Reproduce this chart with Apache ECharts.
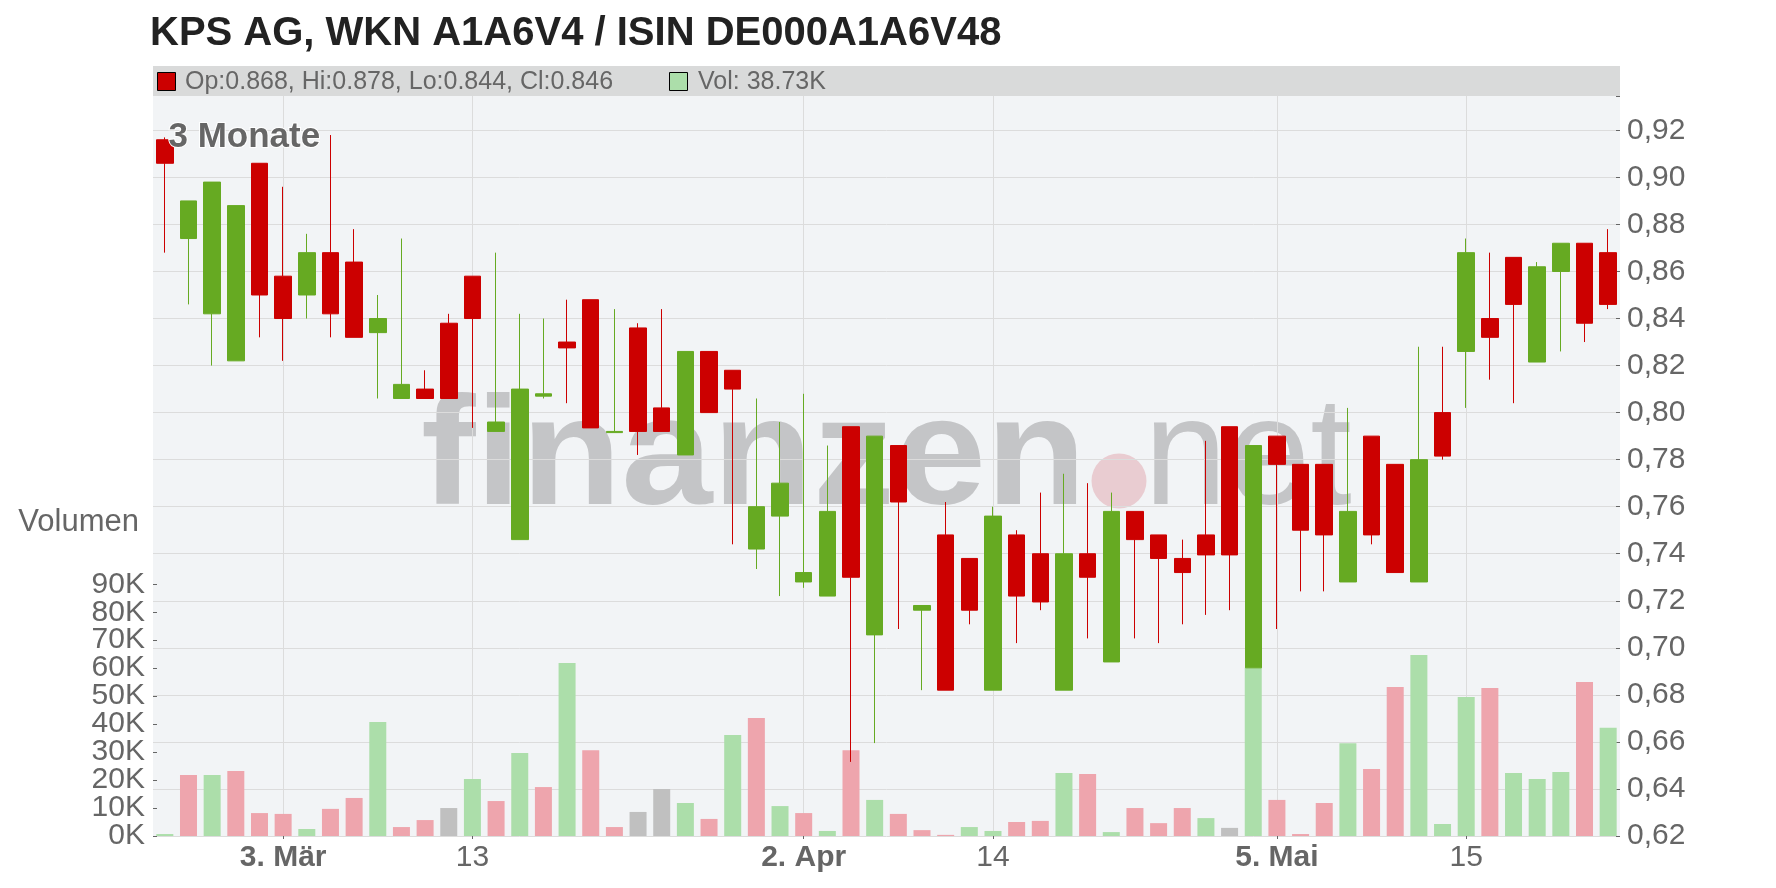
<!DOCTYPE html>
<html><head><meta charset="utf-8">
<script src="https://cdn.jsdelivr.net/npm/echarts@6/dist/echarts.min.js"></script>
<style>html,body{margin:0;padding:0;background:#fff}#c{width:1776px;height:888px}</style>
</head><body><div id="c"></div>
<script>
const dates = [
 '2025-02-24','2025-02-25','2025-02-26','2025-02-27','2025-02-28',
 '2025-03-03','2025-03-04','2025-03-05','2025-03-06','2025-03-07',
 '2025-03-10','2025-03-11','2025-03-12','2025-03-13','2025-03-14',
 '2025-03-17','2025-03-18','2025-03-19','2025-03-20','2025-03-21',
 '2025-03-24','2025-03-25','2025-03-26','2025-03-27','2025-03-28',
 '2025-03-31','2025-04-01','2025-04-02','2025-04-03','2025-04-04',
 '2025-04-07','2025-04-08','2025-04-09','2025-04-10','2025-04-11',
 '2025-04-14','2025-04-15','2025-04-16','2025-04-17','2025-04-22',
 '2025-04-23','2025-04-24','2025-04-25','2025-04-28','2025-04-29',
 '2025-04-30','2025-05-02','2025-05-05','2025-05-06','2025-05-07',
 '2025-05-08','2025-05-09','2025-05-12','2025-05-13','2025-05-14',
 '2025-05-15','2025-05-16','2025-05-19','2025-05-20','2025-05-21',
 '2025-05-22','2025-05-23'];
const open = [0.916,0.874,0.842,0.822,0.906,0.858,0.850,0.868,0.864,0.834,
 0.806,0.810,0.838,0.858,0.792,0.746,0.807,0.830,0.848,0.7915,
 0.836,0.802,0.782,0.826,0.818,0.742,0.756,0.728,0.722,0.794,
 0.7055,0.786,0.716,0.748,0.738,0.682,0.748,0.740,0.682,0.740,
 0.694,0.758,0.748,0.738,0.748,0.794,0.6915,0.790,0.778,0.778,
 0.728,0.790,0.778,0.728,0.800,0.826,0.840,0.866,0.8215,0.860,
 0.872,0.868];
const high = [0.917,0.890,0.898,0.888,0.906,0.896,0.876,0.918,0.878,0.850,
 0.874,0.818,0.842,0.858,0.868,0.842,0.840,0.848,0.848,0.844,
 0.838,0.844,0.826,0.826,0.818,0.806,0.796,0.808,0.786,0.794,
 0.790,0.786,0.718,0.762,0.738,0.760,0.750,0.766,0.774,0.770,
 0.766,0.758,0.748,0.746,0.788,0.794,0.786,0.790,0.778,0.778,
 0.802,0.790,0.778,0.828,0.828,0.874,0.868,0.866,0.864,0.872,
 0.872,0.878];
const low = [0.868,0.846,0.820,0.822,0.832,0.822,0.840,0.832,0.832,0.806,
 0.806,0.806,0.806,0.7935,0.792,0.746,0.806,0.804,0.7935,0.7915,
 0.782,0.792,0.782,0.800,0.744,0.7335,0.722,0.7255,0.722,0.6515,
 0.6595,0.708,0.682,0.682,0.710,0.682,0.702,0.716,0.682,0.704,
 0.694,0.704,0.702,0.710,0.714,0.716,0.6915,0.708,0.724,0.724,
 0.728,0.744,0.732,0.728,0.780,0.802,0.814,0.804,0.8215,0.826,
 0.830,0.844];
const close = [0.906,0.890,0.898,0.888,0.850,0.840,0.868,0.842,0.832,0.840,
 0.812,0.806,0.806,0.840,0.796,0.810,0.808,0.8275,0.7935,0.792,
 0.792,0.792,0.826,0.800,0.810,0.760,0.770,0.732,0.758,0.730,
 0.790,0.762,0.718,0.682,0.716,0.756,0.722,0.7195,0.740,0.730,
 0.758,0.746,0.738,0.732,0.7395,0.7395,0.786,0.778,0.750,0.748,
 0.758,0.748,0.732,0.780,0.7815,0.868,0.832,0.846,0.862,0.872,
 0.838,0.846];
const volume = [700,21800,21800,23200,8200,7900,2500,9700,13600,40800,
 3200,5700,10000,20400,12500,29700,17500,61900,30700,3200,
 8600,16800,11800,6100,36100,42200,10700,8200,1800,30700,
 12900,7900,2100,400,3200,1800,5000,5400,22500,22200,
 1400,10000,4600,10000,6400,2900,60200,12900,700,11800,
 33200,24000,53300,64700,4300,49700,52900,22500,20400,22900,
 55100,38730];
const tickIndex = [5,13,27,35,47,55];
const tickLabels = ['3. Mär','13','2. Apr','14','5. Mai','15'];
const titleText = 'KPS AG, WKN A1A6V4 / ISIN DE000A1A6V48';
const periodText = '3 Monate';
const volumeName = 'Volumen';

const UP='#66aa22', DOWN='#cc0000', VUP='#acdeaa', VDOWN='#eea5ad', VFLAT='#c0c0c0';
const FONT = "'Liberation Sans', Arial, sans-serif";
const GL=153, GR=156, GT=96, GB=52;
const VTOP=584.3;                       // top of the 0..90K volume band
const VSTEP=(888-GB-VTOP)/9;            // pixels per 10K

const candleData = dates.map((d,i)=>[open[i],close[i],low[i],high[i]]);
function volColor(i){
  if(i===0) return VUP;
  if(close[i]>close[i-1]) return VUP;
  if(close[i]<close[i-1]) return VDOWN;
  return VFLAT;
}
const volData = volume.map((v,i)=>({value:v,itemStyle:{color:volColor(i)}}));
const n = dates.length-1;
const legendText = 'Op:'+open[n].toFixed(3)+', Hi:'+high[n].toFixed(3)+', Lo:'+low[n].toFixed(3)+', Cl:'+close[n].toFixed(3);
const volText = 'Vol: '+(volume[n]/1000).toFixed(2)+'K';
const isTick = (i)=>tickIndex.indexOf(i)>=0;
function txt(x,y,text,font,fill,align,extra){
  return Object.assign({type:'text',z:11,silent:true,x:x,y:y,
    style:Object.assign({text:text,font:font,fill:fill,align:align,verticalAlign:'middle',textAlign:align,textVerticalAlign:'middle'},extra||{})});
}
const volLabel = {margin:8,color:'#666',fontSize:30,lineHeight:22,fontFamily:FONT,
  formatter:v=>(v<0?'':(v/1000)+'K')};
const volTick = {show:true,inside:true,length:4,lineStyle:{color:'#666'}};

const chart = echarts.init(document.getElementById('c'), null, {renderer:'canvas'});
chart.setOption({
  animation:false,
  backgroundColor:'#ffffff',
  textStyle:{fontFamily:FONT},
  grid:[
    {left:GL,right:GR,top:GT,bottom:GB,show:false},
    {left:GL,right:GR,top:VTOP,bottom:GB,show:false},
    {left:GL,right:GR,top:VTOP,bottom:GB-VSTEP,show:false}
  ],
  xAxis:[
    {type:'category',gridIndex:0,data:dates,boundaryGap:true,
     axisLine:{show:false},
     axisTick:{show:true,interval:isTick,alignWithLabel:true,length:3,lineStyle:{color:'#666'}},
     axisLabel:{interval:isTick,margin:7,color:'#666',fontSize:30,fontFamily:FONT,
       formatter:function(v,i){const k=tickIndex.indexOf(i); if(k<0) return ''; const t=tickLabels[k]; return t.indexOf('.')>=0?'{b|'+t+'}':t;},
       rich:{b:{fontWeight:'bold',fontSize:30,color:'#666',fontFamily:FONT}}},
     splitLine:{show:true,interval:isTick,alignWithLabel:true,lineStyle:{color:'#dcdcdc',width:1}}},
    {type:'category',gridIndex:1,data:dates,boundaryGap:true,show:false},
    {type:'category',gridIndex:2,data:dates,boundaryGap:true,show:false}
  ],
  yAxis:[
    {type:'value',gridIndex:0,position:'right',min:0.62,max:0.9346,interval:0.02,
     axisLine:{show:false},
     axisTick:{show:true,inside:true,length:4,lineStyle:{color:'#666'}},
     axisLabel:{margin:7,color:'#666',fontSize:30,lineHeight:22,fontFamily:FONT,showMinLabel:true,hideOverlap:false,
       formatter:function(v){const k=Math.round(v*50); if(Math.abs(v*50-k)>1e-6) return ''; return v.toFixed(2).replace('.',',');}},
     splitLine:{show:true,showMaxLine:false,lineStyle:{color:'#dcdcdc',width:1}}},
    // volume axis: even steps 0K..80K (carries the bars)
    {type:'value',gridIndex:1,position:'left',min:0,max:90000,interval:20000,
     axisLine:{show:false},axisTick:volTick,
     axisLabel:Object.assign({showMinLabel:true,showMaxLabel:false},volLabel),
     splitLine:{show:false}},
    // volume axis: odd steps 10K..90K (same scale, grid extended by one step below)
    {type:'value',gridIndex:2,position:'left',min:-10000,max:90000,interval:20000,
     axisLine:{show:false},axisTick:volTick,
     axisLabel:Object.assign({showMinLabel:false,showMaxLabel:true},volLabel),
     splitLine:{show:false}}
  ],
  series:[
    {type:'bar',xAxisIndex:1,yAxisIndex:1,data:volData,barWidth:17,z:1,silent:true},
    {type:'candlestick',xAxisIndex:0,yAxisIndex:0,data:candleData,barWidth:17,z:3,silent:true,
     itemStyle:{color:UP,color0:DOWN,borderColor:UP,borderColor0:DOWN,borderWidth:1}}
  ],
  graphic:[
    {type:'rect',z:-10,silent:true,shape:{x:GL,y:GT,width:1776-GL-GR,height:888-GT-GB},style:{fill:'#f2f4f6'}},
    {type:'text',z:-5,silent:true,x:421,y:462,scaleX:1.065,style:{text:'finanzen',font:'bold 154px '+FONT,fill:'#c4c5c7',align:'left',verticalAlign:'middle',textAlign:'left',textVerticalAlign:'middle'}},
    {type:'text',z:-5,silent:true,x:1144,y:462,scaleX:0.97,style:{text:'net',font:'154px '+FONT,fill:'#c4c5c7',align:'left',verticalAlign:'middle',textAlign:'left',textVerticalAlign:'middle'}},
    {type:'circle',z:-4,silent:true,shape:{cx:1119,cy:481,r:27.5},style:{fill:'#e9ccd1'}},
    {type:'rect',z:10,silent:true,shape:{x:GL,y:66,width:1776-GL-GR,height:30},style:{fill:'#d9dada'}},
    {type:'rect',z:11,silent:true,shape:{x:157.5,y:72.5,width:18,height:18},style:{fill:(close[n]<open[n]?DOWN:UP),stroke:'#000',lineWidth:1}},
    txt(185,81.9,legendText,'25px '+FONT,'#666','left'),
    {type:'rect',z:11,silent:true,shape:{x:669.5,y:72.5,width:18,height:18},style:{fill:volColor(n),stroke:'#000',lineWidth:1}},
    txt(698,81.9,volText,'25px '+FONT,'#666','left'),
    txt(150,33.8,titleText,'bold 40px '+FONT,'#222','left'),
    txt(168.5,137.6,periodText,'bold 35px '+FONT,'#666','left',{stroke:'#ffffff',lineWidth:2}),
    txt(139,522.5,volumeName,'31px '+FONT,'#666','right')
  ]
});
</script></body></html>
